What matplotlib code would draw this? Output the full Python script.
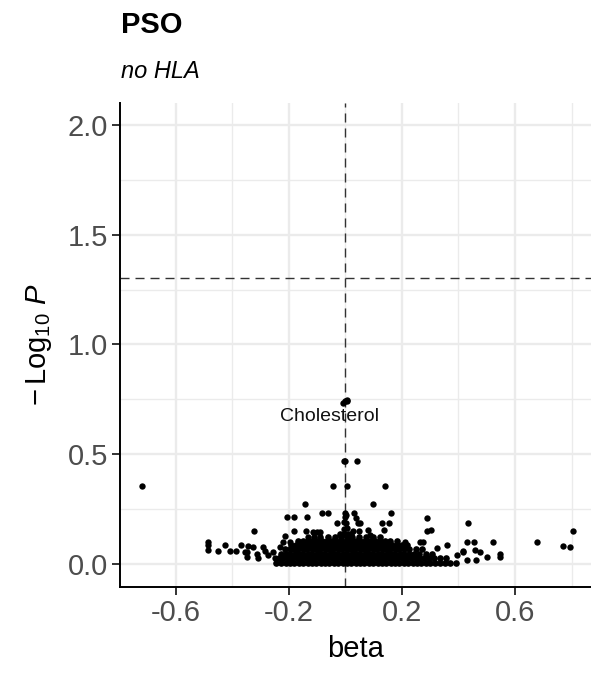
import matplotlib
matplotlib.use('Agg')
import matplotlib.pyplot as plt
from matplotlib.ticker import FixedLocator

plt.rcParams['font.family'] = ['Liberation Sans', 'DejaVu Sans']
plt.rcParams['mathtext.fontset'] = 'custom'
plt.rcParams['mathtext.rm'] = 'Liberation Sans'
plt.rcParams['mathtext.it'] = 'Liberation Sans:italic'

# scattered points (beta, -log10 p)
sparse_beta = [-0.721, -0.008, -0.002, 0.004, 0.006, -0.005, 0.000, 0.042,
               -0.045, 0.006, 0.140, -0.142, 0.096,
               -0.208, -0.182, -0.135, -0.084, -0.061, 0.000, 0.002, -0.003,
               0.030, 0.037, 0.160, 0.287,
               -0.031, -0.005, 0.003, 0.045, 0.051, 0.128, 0.155, 0.435,
               -0.323, -0.182, -0.141, -0.114, -0.102, -0.090, 0.025, 0.049,
               0.081, 0.137, 0.290, 0.303, -0.004, 0.005,
               -0.132, -0.214, 0.087,
               0.804, 0.679, 0.771, 0.795,
               0.431, 0.455, 0.523, 0.211, 0.264, 0.275, 0.358, 0.323,
               0.458, 0.476, 0.500, 0.547, 0.547, 0.394, 0.429, 0.462, 0.417, 0.415,
               -0.486, -0.486, -0.486, -0.450, -0.427, -0.409, -0.388, -0.368,
               -0.350, -0.344, -0.326, -0.314, -0.309, -0.291, -0.285, -0.273,
               -0.256, -0.250, -0.232, -0.220, -0.196, -0.350, -0.356]
sparse_logp = [0.357, 0.735, 0.742, 0.748, 0.744, 0.470, 0.468, 0.469,
               0.355, 0.355, 0.357, 0.272, 0.272,
               0.215, 0.215, 0.215, 0.231, 0.231, 0.231, 0.222, 0.212,
               0.231, 0.211, 0.231, 0.208,
               0.185, 0.190, 0.185, 0.185, 0.185, 0.185, 0.185, 0.185,
               0.152, 0.152, 0.152, 0.147, 0.147, 0.147, 0.152, 0.152,
               0.155, 0.155, 0.150, 0.155, 0.160, 0.165,
               0.124, 0.129, 0.132,
               0.152, 0.099, 0.082, 0.076,
               0.099, 0.099, 0.099, 0.102, 0.102, 0.102, 0.087, 0.071,
               0.064, 0.056, 0.033, 0.046, 0.031, 0.041, 0.018, 0.018, 0.061, 0.056,
               0.102, 0.086, 0.064, 0.061, 0.087, 0.061, 0.061, 0.087,
               0.033, 0.082, 0.079, 0.046, 0.026, 0.079, 0.061, 0.041,
               0.056, 0.026, 0.079, 0.102, 0.102, 0.056, 0.056]

# dense bulk near zero, read row by row
row_logp = [0.006, 0.026, 0.046, 0.066, 0.086, 0.104, 0.121, 0.138]
row_beta = [
    [-0.245, -0.228, -0.212, -0.197, -0.181, -0.166, -0.150, -0.134, -0.119, -0.103,
     -0.088, -0.072, -0.057, -0.041, -0.026, -0.010, 0.005, 0.021, 0.036, 0.052,
     0.067, 0.083, 0.098, 0.114, 0.129, 0.145, 0.160, 0.176, 0.191, 0.207,
     0.222, 0.238, 0.253, 0.269, 0.284, 0.300, 0.318, 0.335, 0.352, 0.371, 0.392],
    [-0.236, -0.220, -0.204, -0.188, -0.173, -0.157, -0.141, -0.126, -0.110, -0.095,
     -0.079, -0.064, -0.048, -0.033, -0.017, -0.002, 0.014, 0.029, 0.045, 0.060,
     0.076, 0.091, 0.107, 0.122, 0.138, 0.153, 0.169, 0.184, 0.200, 0.215,
     0.231, 0.248, 0.262, 0.279, 0.296, 0.313, 0.333, 0.356],
    [-0.228, -0.212, -0.196, -0.180, -0.165, -0.149, -0.133, -0.118, -0.102, -0.087,
     -0.071, -0.056, -0.040, -0.025, -0.009, 0.006, 0.022, 0.037, 0.053, 0.068,
     0.084, 0.099, 0.115, 0.130, 0.146, 0.161, 0.177, 0.192, 0.208, 0.226,
     0.243, 0.262, 0.284, 0.305],
    [-0.214, -0.198, -0.183, -0.167, -0.151, -0.136, -0.120, -0.105, -0.089, -0.074,
     -0.058, -0.043, -0.027, -0.012, 0.004, 0.019, 0.035, 0.050, 0.066, 0.081,
     0.097, 0.112, 0.128, 0.143, 0.159, 0.174, 0.190, 0.206, 0.224, 0.248, 0.271],
    [-0.193, -0.176, -0.160, -0.144, -0.129, -0.113, -0.098, -0.082, -0.067, -0.051,
     -0.036, -0.020, -0.005, 0.011, 0.026, 0.042, 0.057, 0.073, 0.088, 0.104,
     0.119, 0.135, 0.150, 0.166, 0.183, 0.201, 0.219],
    [-0.168, -0.151, -0.134, -0.117, -0.100, -0.083, -0.066, -0.049, -0.032, -0.015,
     0.002, 0.019, 0.036, 0.053, 0.070, 0.087, 0.104, 0.121, 0.139, 0.158, 0.181],
    [-0.112, -0.089, -0.061, -0.038, -0.016, 0.004, 0.024, 0.047, 0.071, 0.098, 0.124],
    [-0.021, -0.006, 0.008, 0.021],
]

label_text = 'Cholesterol'
label_pos = (-0.058, 0.671)
p_threshold = 1.301  # -log10(0.05)

x_major = [-0.6, -0.2, 0.2, 0.6]
x_minor = [-0.4, 0.0, 0.4, 0.8]
y_major = [0.0, 0.5, 1.0, 1.5, 2.0]
y_minor = [0.25, 0.75, 1.25, 1.75]

fig = plt.figure(figsize=(5.91, 6.77), dpi=100)
ax = fig.add_axes([0.203, 0.1329, 0.797, 0.715])

dense_beta = []
dense_logp = []
for yv, xs in zip(row_logp, row_beta):
    dense_beta += xs
    dense_logp += [yv] * len(xs)

ax.scatter(dense_beta, dense_logp, s=23, color='black', linewidths=0, zorder=3)
ax.scatter(sparse_beta, sparse_logp, s=21, color='black', linewidths=0, zorder=3)

ax.axvline(0, color='#333333', lw=1.0, dashes=(6.5, 4.3), zorder=2)
ax.axhline(p_threshold, color='#333333', lw=1.0, dashes=(6.5, 4.3), zorder=2)

ax.text(label_pos[0], label_pos[1], label_text, fontsize=14, ha='center', va='center',
        color='#111111', zorder=4)

ax.set_xlim(-0.798, 0.869)
ax.set_ylim(-0.105, 2.1)
ax.xaxis.set_major_locator(FixedLocator(x_major))
ax.xaxis.set_minor_locator(FixedLocator(x_minor))
ax.yaxis.set_major_locator(FixedLocator(y_major))
ax.yaxis.set_minor_locator(FixedLocator(y_minor))
ax.set_xticklabels(['-0.6', '-0.2', '0.2', '0.6'])
ax.set_yticklabels(['0.0', '0.5', '1.0', '1.5', '2.0'])

ax.grid(which='major', color='#EBEBEB', lw=1.7, zorder=0)
ax.grid(which='minor', color='#EBEBEB', lw=1.0, zorder=0)
ax.set_axisbelow(True)

for s in ['top', 'right']:
    ax.spines[s].set_visible(False)
for s in ['left', 'bottom']:
    ax.spines[s].set_linewidth(1.4)
    ax.spines[s].set_color('black')

ax.tick_params(which='major', length=5.5, width=1.4, color='#333333',
               labelsize=21, labelcolor='#4D4D4D', pad=3)
ax.tick_params(which='minor', length=0)

ax.set_xlabel('beta', fontsize=21, labelpad=6)
ax.set_ylabel(r'$-\,\mathrm{Log}_{10}\ \mathit{P}$', fontsize=21, labelpad=10)

fig.text(0.2047, 0.951, 'PSO', fontsize=21, fontweight='bold', ha='left', va='baseline')
fig.text(0.2047, 0.885, 'no HLA', fontsize=17, fontstyle='italic', ha='left', va='baseline')

fig.savefig('out.png', dpi=100)
